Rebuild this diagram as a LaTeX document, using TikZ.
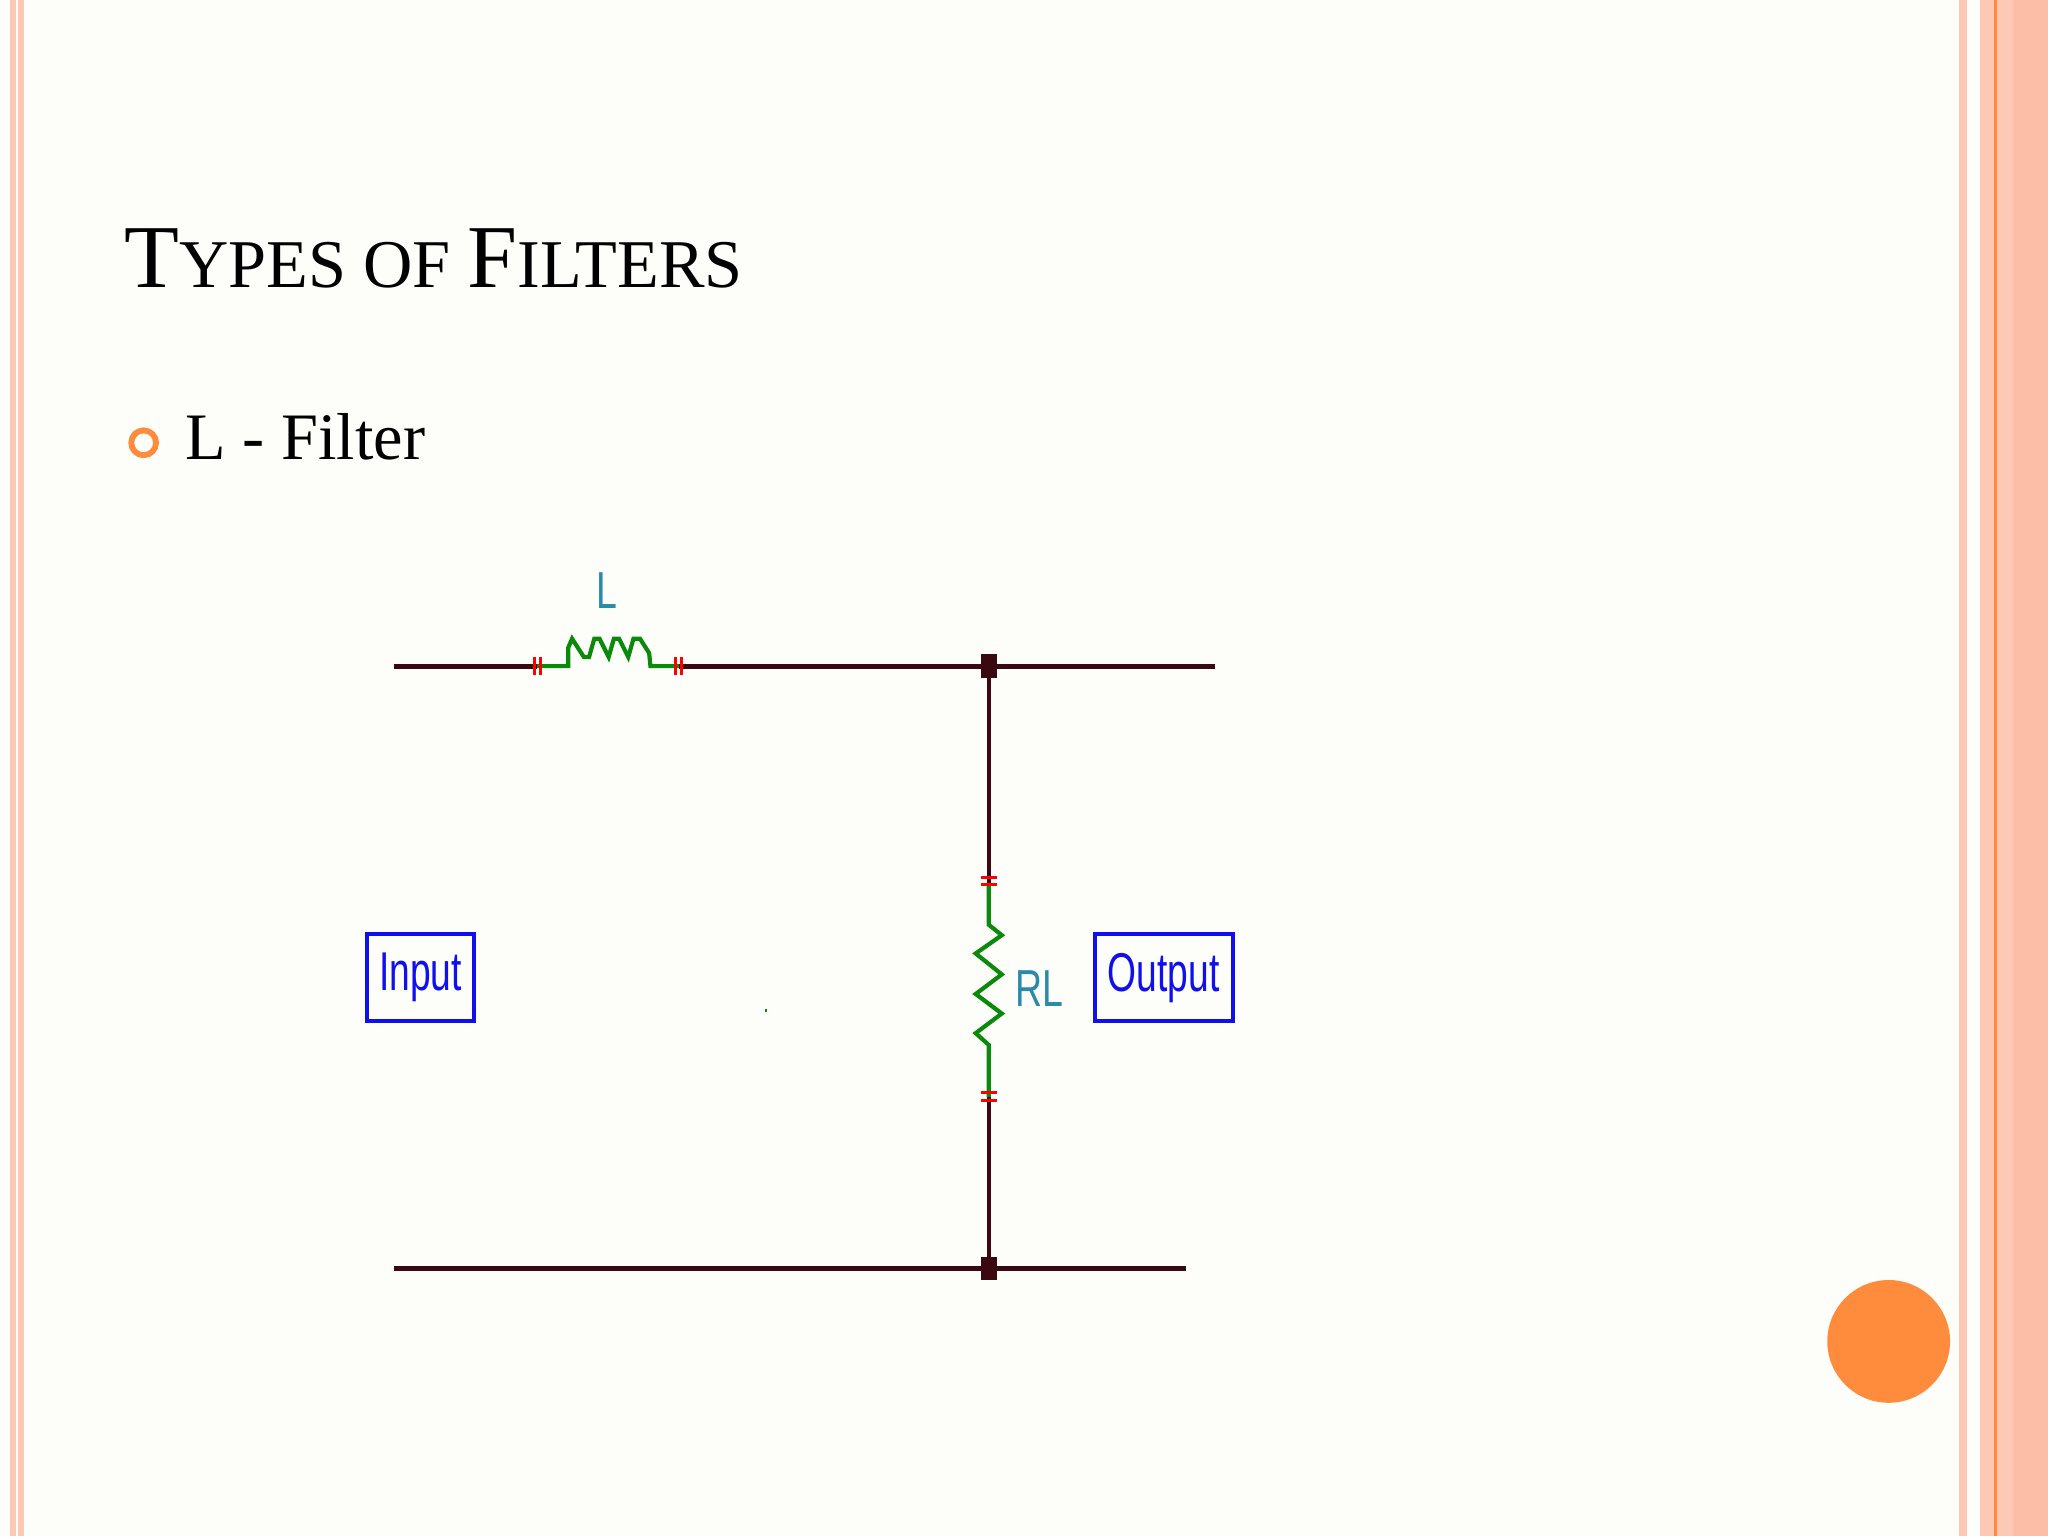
\documentclass[tikz,border=0pt]{standalone}
\usepackage{fontspec}
\setmainfont{Liberation Serif}
\newfontfamily\lab{Liberation Sans}
\definecolor{bg}{HTML}{FDFEFA}
\definecolor{pinkb}{HTML}{FDC8B4}
\definecolor{pinkd}{HTML}{FDBEA8}
\definecolor{orng}{HTML}{FF8C3C}
\definecolor{wire}{HTML}{3A0810}
\definecolor{grn}{HTML}{0A8A0A}
\definecolor{teal}{HTML}{2A8AAA}
\definecolor{blu}{HTML}{1010EE}
\tikzset{w/.style={draw=wire,line width=4bp},
 g/.style={draw=grn,line width=3.2bp},
 tick/.style={draw=red,line width=2.2bp},
 lbl/.style={text=teal,font=\lab\fontsize{40}{40}\selectfont,xscale=0.72,inner sep=0},
 box/.style={draw=blu,line width=3bp,minimum width=82bp,minimum height=67bp,inner sep=0,text=blu,font=\lab\fontsize{42}{42}\selectfont}}
\begin{document}
\begin{tikzpicture}[x=1bp,y=-1bp]
\fill[bg] (0,0) rectangle (1568,1176);
\useasboundingbox (0,0) rectangle (1568,1176);
% borders
\fill[pinkb] (8,0) rectangle (12,1176);
\fill[pinkb] (14,0) rectangle (18,1176);
\fill[pinkb] (1500,0) rectangle (1506,1176);
\fill[pinkb] (1516,0) rectangle (1568,1176);
\fill[pinkd] (1541,0) rectangle (1568,1176);
\fill[orng] (1527,0) rectangle (1529,1176);
% title
\node[anchor=base west,inner sep=0] (title) at (95,220) {\fontsize{69}{69}\selectfont T\fontsize{52.5}{52.5}\selectfont YPES OF \fontsize{69}{69}\selectfont F\fontsize{52.5}{52.5}\selectfont ILTERS};
\draw[orng,line width=4.5bp] (110,339) circle (9.5);
\node[anchor=base west,inner sep=0] (bul) at (142,352) {\fontsize{51}{51}\selectfont L - Filter};
% nodes
\coordinate (tl) at (302,510); \coordinate (tr) at (930,510);
\coordinate (bl) at (302,971); \coordinate (br) at (908,971);
\coordinate (jt) at (757,510); \coordinate (jb) at (757,971);
\coordinate (i1) at (411,510); \coordinate (i2) at (520,510);
\coordinate (r1) at (757,676); \coordinate (r2) at (757,840);
% wires
\draw[w] (tl) -- (i1); \draw[w] (i2) -- (tr);
\draw[w] (bl) -- (br);
\draw[w,line width=2.8bp] (jt) -- (r1); \draw[w,line width=2.8bp] (r2) -- (jb);
\fill[wire] (jt) ++(-6,-9) rectangle ++(12,18);
\fill[wire] (jb) ++(-6,-9) rectangle ++(12,18);
% inductor
\draw[g] (i1) -- (435,510) -- (435,496) -- (438,489) -- (447,503) -- (451,503) -- (455,489) -- (459,489) -- (466,503) -- (470,489) -- (474,489) -- (481,503) -- (485,489) -- (490,489) -- (497,500) -- (498,510) -- (i2);
\draw[tick] (409,503) -- (409,517) (413.5,503) -- (413.5,517);
\draw[tick] (517.5,503) -- (517.5,517) (522,503) -- (522,517);
\node[lbl] (Llab) at (465,452) {L};
% resistor
\draw[g] (r1) -- (757,708) -- (767,716) -- (747,730) -- (767,746) -- (747,761) -- (767,776) -- (747,791) -- (757,800) -- (r2);
\draw[tick] (751,671.5) -- (763,671.5) (751,677.5) -- (763,677.5);
\draw[tick] (751,836.5) -- (763,836.5) (751,842.5) -- (763,842.5);
\node[lbl] (RLlab) at (796,757) {RL};
% boxes
\node[box] (in) at (322,748.5) {\scalebox{0.68}[1]{Input}};
\node[box,minimum width=106bp] (out) at (891,748.5) {\scalebox{0.68}[1]{Output}};
\fill[grn] (585.5,772.5) rectangle (587,775);
% orange circle
\fill[orng] (1446,1027) circle (47);
\end{tikzpicture}
\end{document}
